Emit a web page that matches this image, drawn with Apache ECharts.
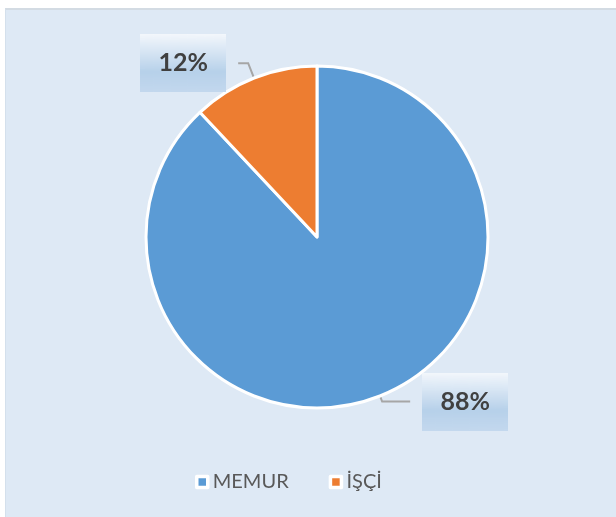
<!DOCTYPE html>
<html>
<head>
<meta charset="utf-8">
<script src="https://cdn.jsdelivr.net/npm/echarts@6/dist/echarts.min.js"></script>
<style>
    html, body { margin: 0; padding: 0; background: #fff; }
    #panel {
        position: absolute; left: 5px; top: 8px; width: 611px; height: 509px;
        background: #dee9f5; border-top: 2px solid #d3dbe3; border-left: 1px solid #d4e0ec;
        box-sizing: border-box;
    }
    #chart { position: absolute; left: 0; top: 0; width: 616px; height: 517px; }
</style>
</head>
<body>
<div id="panel"></div>
<div id="chart"></div>
<script>
// kategoriler ve değerler
var categories = ['MEMUR', 'İŞÇİ'];
var values = [88, 12];
var colors = ['#5b9bd5', '#ed7d31'];

// etiket kutusu için gradyan
var grad = document.createElement('canvas');
grad.width = 10;
grad.height = 60;
var gctx = grad.getContext('2d');
var g = gctx.createLinearGradient(0, 0, 0, 60);
g.addColorStop(0, '#f3f7fc');
g.addColorStop(0.65, '#b7d1ea');
g.addColorStop(1, '#c3d8ee');
gctx.fillStyle = g;
gctx.fillRect(0, 0, 10, 60);

// her dilim için çizgi uzunlukları
var lineLen = [[6, 28], [16, 10]];

var chart = echarts.init(document.getElementById('chart'));
var option = {
    animation: false,
    legend: {
        data: categories,
        left: 190,
        top: 467,
        icon: 'rect',
        itemWidth: 11,
        itemHeight: 11,
        itemGap: 40,
        itemStyle: { borderColor: '#ffffff', borderWidth: 3.5 },
        textStyle: { fontFamily: 'Lato', fontSize: 20, color: '#595959' }
    },
    series: [{
        type: 'pie',
        center: [317, 237],
        radius: 171,
        startAngle: 90,
        clockwise: true,
        itemStyle: { borderColor: '#fff', borderWidth: 3 },
        label: {
            show: true,
            position: 'outside',
            formatter: function (p) { return '{b|' + Math.round(p.percent) + '%}'; },
            distanceToLabelLine: 12,
            rich: {
                b: {
                    fontFamily: 'Lato',
                    fontWeight: 'bold',
                    fontSize: 25,
                    color: '#404040',
                    width: 86,
                    height: 58,
                    lineHeight: 58,
                    align: 'center',
                    backgroundColor: { image: grad }
                }
            }
        },
        labelLine: {
            show: true,
            lineStyle: { color: '#a6a6a6', width: 2 }
        },
        data: categories.map(function (name, i) {
            return {
                name: name,
                value: values[i],
                itemStyle: { color: colors[i] },
                labelLine: { length: lineLen[i][0], length2: lineLen[i][1] }
            };
        })
    }]
};
chart.setOption(option);
</script>
</body>
</html>
